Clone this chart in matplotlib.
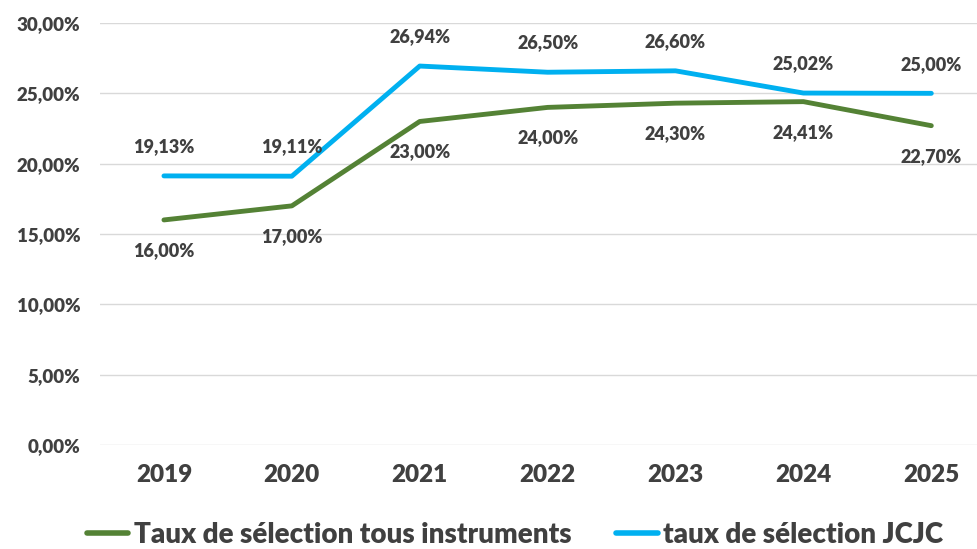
import matplotlib
matplotlib.use("Agg")
import matplotlib.pyplot as plt
from matplotlib.ticker import FuncFormatter

years = ["2019", "2020", "2021", "2022", "2023", "2024", "2025"]
tous = [16.00, 17.00, 23.00, 24.00, 24.30, 24.41, 22.70]
jcjc = [19.13, 19.11, 26.94, 26.50, 26.60, 25.02, 25.00]
yticks = [0, 5, 10, 15, 20, 25, 30]

green = "#548235"
blue = "#00B0F0"
txt = "#404040"

plt.rcParams['font.family'] = ['Lato', 'DejaVu Sans']
W = 'heavy'

fig = plt.figure(figsize=(9.77, 5.49), dpi=100)
ax = fig.add_axes([100/977, 1-445/549, 1-100/977, (445-23)/549])

x = list(range(len(years)))
ax.plot(x, tous, color=green, lw=3.5, solid_capstyle='round', label="Taux de sélection tous instruments", zorder=3)
ax.plot(x, jcjc, color=blue, lw=3.5, solid_capstyle='round', label="taux de sélection JCJC", zorder=3)

fmt = lambda v: f"{v:.2f}".replace(".", ",") + "%"
for xi, v in zip(x, jcjc):
    ax.annotate(fmt(v), (xi, v), xytext=(0, 21), textcoords='offset points', ha='center', va='center',
                fontsize=13, fontweight=W, color=txt)
for xi, v in zip(x, tous):
    ax.annotate(fmt(v), (xi, v), xytext=(0, -22), textcoords='offset points', ha='center', va='center',
                fontsize=13, fontweight=W, color=txt)

ax.set_ylim(0, 30)
ax.set_xlim(-0.5, (977-162)/128.2)
ax.set_yticks(yticks)
ax.yaxis.set_major_formatter(FuncFormatter(lambda v, p: f"{v:.2f}".replace(".", ",") + "%"))
ax.set_xticks(x)
ax.set_xticklabels(years)
ax.grid(axis='y', color='#D9D9D9', lw=1)
ax.set_axisbelow(True)
for s in ax.spines.values():
    s.set_visible(False)
ax.tick_params(axis='both', length=0, colors=txt)
ax.tick_params(axis='y', labelsize=13.5, pad=14)
ax.tick_params(axis='x', labelsize=17.5, pad=14)
for lbl in ax.get_xticklabels() + ax.get_yticklabels():
    lbl.set_fontweight(W)
    lbl.set_color(txt)

leg = fig.legend(loc='center', bbox_to_anchor=(0.527, 1-535/549), ncol=2, frameon=False,
                 fontsize=20, handlelength=1.5, handletextpad=0.2, columnspacing=1.6)
for t in leg.get_texts():
    t.set_color(txt)
    t.set_fontweight(W)
for h in leg.get_lines():
    h.set_linewidth(4)

fig.savefig("out.png", dpi=100)
